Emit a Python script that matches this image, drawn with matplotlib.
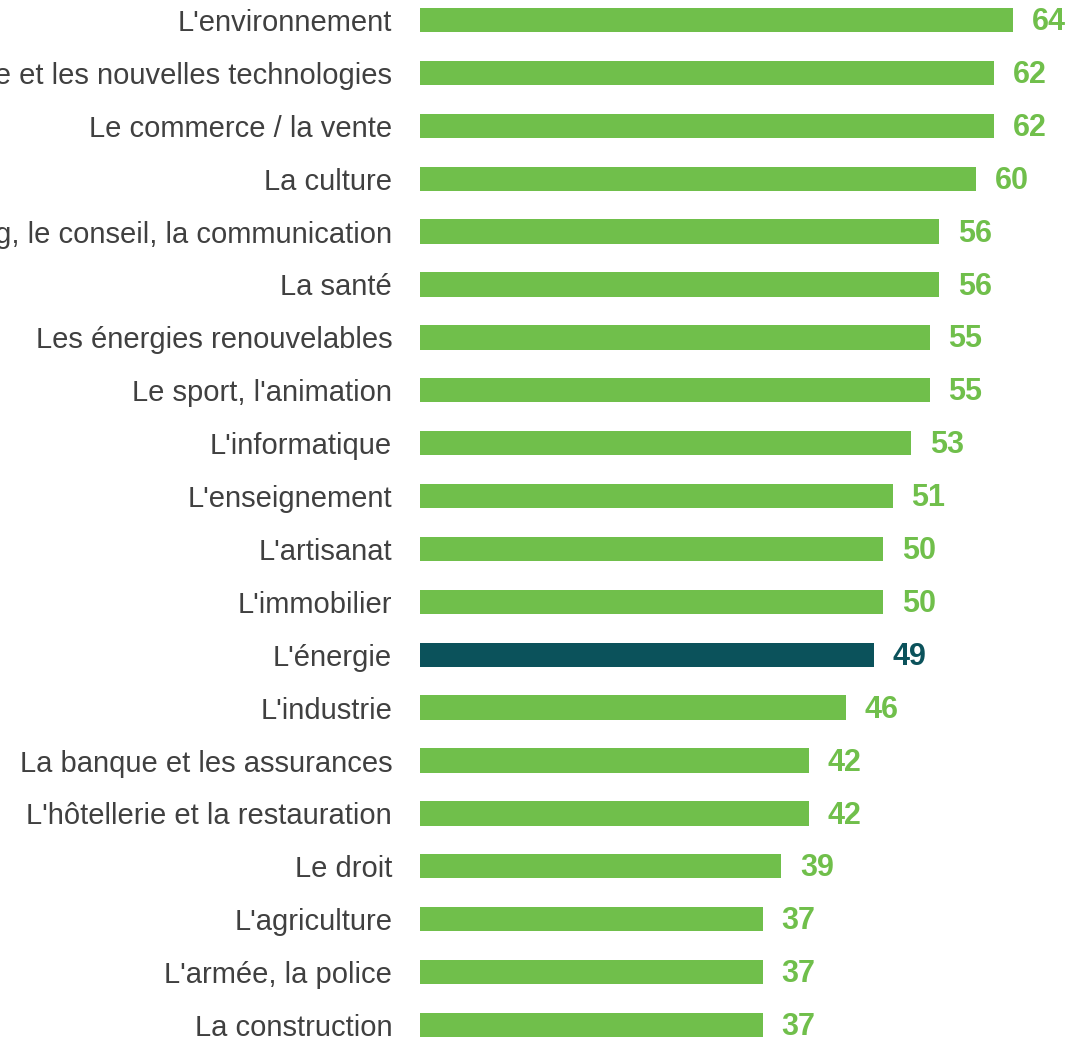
import matplotlib
matplotlib.use('Agg')
import matplotlib.pyplot as plt

categories = [
    "L'environnement",
    "Le numérique et les nouvelles technologies",
    "Le commerce / la vente",
    "La culture",
    "Le marketing, le conseil, la communication",
    "La santé",
    "Les énergies renouvelables",
    "Le sport, l'animation",
    "L'informatique",
    "L'enseignement",
    "L'artisanat",
    "L'immobilier",
    "L'énergie",
    "L'industrie",
    "La banque et les assurances",
    "L'hôtellerie et la restauration",
    "Le droit",
    "L'agriculture",
    "L'armée, la police",
    "La construction",
]
values = [64, 62, 62, 60, 56, 56, 55, 55, 53, 51, 50, 50, 49, 46, 42, 42, 39, 37, 37, 37]
highlight = "L'énergie"

green = '#70BF4B'
teal = '#0B525B'
text_color = '#404040'

plt.rcParams['font.family'] = ['Liberation Sans', 'DejaVu Sans']

fig = plt.figure(figsize=(10.7, 10.37), dpi=100)
ax = fig.add_axes([420 / 1070, 0, 1 - 420 / 1070, 1])

pos = list(range(len(categories)))
colors = [teal if c == highlight else green for c in categories]
ax.barh(pos, values, height=0.46, color=colors)

for p, v, c in zip(pos, values, colors):
    ax.annotate(str(v), (v, p), xytext=(13.5, -1.5), textcoords='offset points',
                ha='left', va='center', fontsize=22, fontweight='bold', color=c)

ax.set_yticks(pos)
ax.set_yticklabels(categories, fontsize=21, color=text_color)
ax.tick_params(axis='y', length=0, pad=20)
ax.set_xticks([])
ax.set_xlim(0, 650 / (593 / 64))
ax.set_ylim(19 + 12 / 52.9, -20 / 52.9)
for s in ax.spines.values():
    s.set_visible(False)

fig.savefig('out.png', dpi=100)
plt.close(fig)
